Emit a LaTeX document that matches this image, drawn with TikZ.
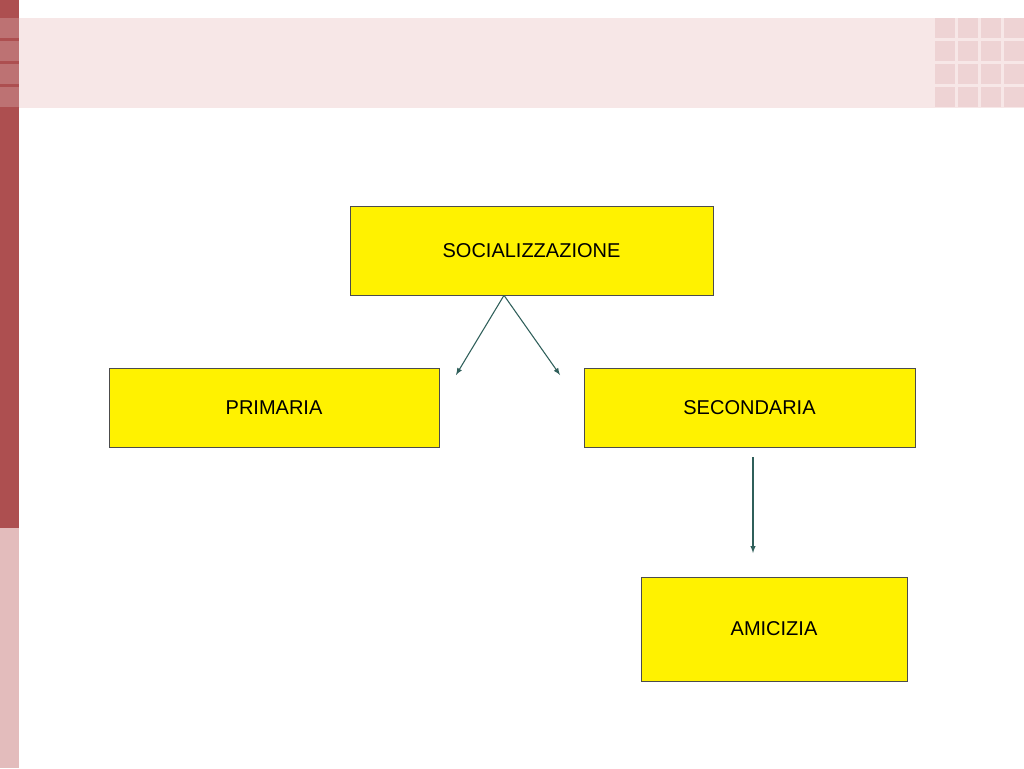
\documentclass[tikz,border=0pt]{standalone}
\usepackage{fontspec}
\setmainfont{Liberation Sans}
\usetikzlibrary{positioning}
\definecolor{barred}{HTML}{AD4F50}
\definecolor{barpink}{HTML}{E3BCBC}
\definecolor{bandpink}{HTML}{F7E7E7}
\definecolor{tilepink}{HTML}{EED3D4}
\definecolor{arrowteal}{HTML}{2F5F5A}
\tikzset{
  box/.style = {draw=black!70, fill=yellow, line width=0.5pt,
                inner sep=0pt, font=\fontsize{15}{18}\selectfont},
  link/.style = {draw=arrowteal, line width=0.8pt, -latex}
}

\begin{document}
\begin{tikzpicture}[x=0.75pt, y=-0.75pt]
	\useasboundingbox (0,0) rectangle (1024,768);
	\fill[white] (0,0) rectangle (1024,768);

	% Band and side bar
	\fill[bandpink] (19,18) rectangle (1024,108);
	\fill[barred] (0,0) rectangle (19,528);
	\fill[barpink] (0,528) rectangle (19,768);
	\foreach \y in {18,41,64,87}
		\fill[white, opacity=0.2] (0,\y) rectangle (19,\y+20);

	% Tiles
	\foreach \x in {935,958,981,1004}
		\foreach \y in {18,41,64,87}
			\fill[tilepink] (\x,\y) rectangle (\x+20,\y+20);

	% Boxes
	\node[box, minimum width=363*0.75pt, minimum height=89*0.75pt] (soc) at (531.5,250.5) {SOCIALIZZAZIONE};
	\node[box, minimum width=330*0.75pt, minimum height=79*0.75pt] (pri) at (274,407.5) {PRIMARIA};
	\node[box, minimum width=331*0.75pt, minimum height=79*0.75pt] (sec) at (749.5,407.5) {SECONDARIA};
	\node[box, minimum width=266*0.75pt, minimum height=104*0.75pt] (ami) at (774,629) {AMICIZIA};

	% Arrows
	\coordinate (left) at (456,375);
	\coordinate (right) at (560,375);
	\coordinate (down) at (753,553);
	\draw[link] (soc.south) ++(-27.5,0) -- (left);
	\draw[link] (soc.south) ++(-27.5,0) -- (right);
	\draw[link] (sec.south) ++(3.5,10) -- (down);
\end{tikzpicture}
\end{document}
